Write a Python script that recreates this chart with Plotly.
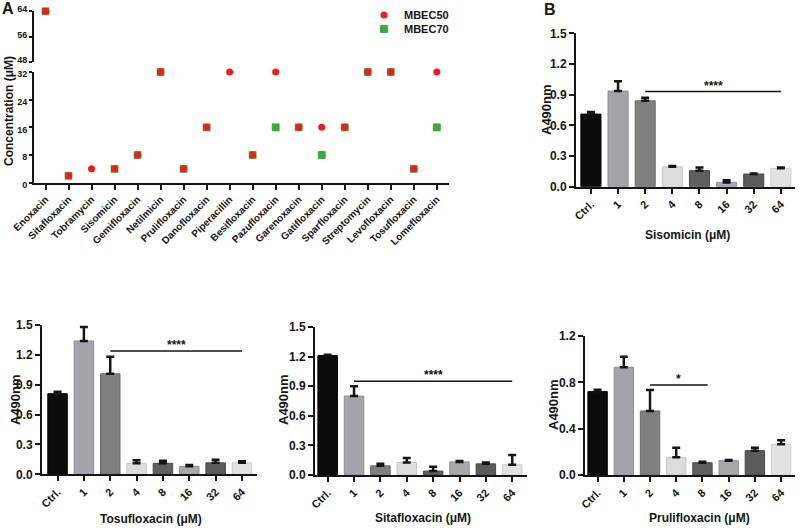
import plotly.graph_objects as go

W, H = 800, 531
FONT = "Liberation Sans, Arial, sans-serif"

# ---------------- Data ----------------
drugs = ["Enoxacin", "Sitafloxacin", "Tobramycin", "Sisomicin", "Gemifloxacin",
         "Netilmicin", "Prulifloxacin", "Danofloxacin", "Piperacillin", "Besifloxacin",
         "Pazufloxacin", "Garenoxacin", "Gatifloxacin", "Sparfloxacin", "Streptomycin",
         "Levofloxacin", "Tosufloxacin", "Lomefloxacin"]
mbec50 = [64, 2, 4, 4, 8, 32, 4, 16, 32, 8, 32, 16, 16, 16, 32, 32, 4, 32]
mbec70 = [64, 2, None, 4, 8, 32, 4, 16, None, 8, 16, 16, 8, 16, 32, 32, 4, 16]
conc_ticks_low = [0, 8, 16, 24, 32]
conc_ticks_high = [48, 56, 64]

dose_labels = ["Ctrl.", "1", "2", "4", "8", "16", "32", "64"]

siso_mean = [0.71, 0.935, 0.84, 0.195, 0.157, 0.042, 0.124, 0.180]
siso_err = [0.02, 0.095, 0.03, 0.008, 0.03, 0.022, 0.004, 0.007]

tosu_mean = [0.81, 1.34, 1.01, 0.11, 0.11, 0.08, 0.115, 0.115]
tosu_err = [0.02, 0.14, 0.17, 0.03, 0.027, 0.014, 0.03, 0.015]

sita_mean = [1.21, 0.80, 0.093, 0.127, 0.04, 0.133, 0.113, 0.103]
sita_err = [0.01, 0.10, 0.02, 0.046, 0.043, 0.01, 0.014, 0.10]

pruli_mean = [0.72, 0.93, 0.553, 0.153, 0.106, 0.124, 0.21, 0.265]
pruli_err = [0.015, 0.09, 0.18, 0.083, 0.009, 0.006, 0.026, 0.035]

# significance brackets: (from index, to index, height, label)
siso_sig = (2, 7, 0.93, "****")
tosu_sig = (2, 7, 1.24, "****")
sita_sig = (1, 7, 0.95, "****")
pruli_sig = (2, 4.2, 0.777, "*")

# ---------------- Styling ----------------
bar_colors = ["#0c0c0c", "#a3a3a9", "#7f7f7f", "#dcdcdc", "#5f5f5f", "#a7a7ae", "#5b5b5b", "#e2e2e2"]
bar_lines = ["#000000", "#8e8e94", "#6c6c6c", "#c8c8c8", "#4c4c4c", "#929298", "#484848", "#cdcdcd"]
RED = "#f41c1c"
GREEN = "#35b035"
INK = "#151515"


def px_x(p):
    return p / W


def px_y(p):
    return 1 - p / H


def axis_common(**kw):
    d = dict(showline=True, linecolor=INK, linewidth=2, ticks="outside", ticklen=5,
             tickwidth=1.5, tickcolor=INK, showgrid=False, zeroline=False, automargin=False,
             tickfont=dict(family=FONT, size=12, color=INK, weight="bold"))
    d.update(kw)
    return d


fig = go.Figure()

# ---------------- Panel A (broken axis) ----------------
xs = list(range(len(drugs)))
low50 = [(x, v) for x, v in zip(xs, mbec50) if v is not None and v <= 32]
low70 = [(x, v) for x, v in zip(xs, mbec70) if v is not None and v <= 32]
high50 = [(x, v) for x, v in zip(xs, mbec50) if v is not None and v >= 48]
high70 = [(x, v) for x, v in zip(xs, mbec70) if v is not None and v >= 48]

sq = dict(symbol="square", size=7, color=GREEN, line=dict(width=0.6, color="#1f8a1f"))
ci = dict(symbol="circle", size=7, color=RED, line=dict(width=0))

fig.add_trace(go.Scatter(x=[p[0] for p in low70], y=[p[1] for p in low70], mode="markers",
                         marker=sq, name="MBEC70", legend="legend2", cliponaxis=False,
                         xaxis="x", yaxis="y"))
fig.add_trace(go.Scatter(x=[p[0] for p in low50], y=[p[1] for p in low50], mode="markers",
                         marker=ci, name="MBEC50", legend="legend", cliponaxis=False,
                         xaxis="x", yaxis="y"))
fig.add_trace(go.Scatter(x=[p[0] for p in high70], y=[p[1] for p in high70], mode="markers",
                         marker=sq, showlegend=False, cliponaxis=False, xaxis="x2", yaxis="y2"))
fig.add_trace(go.Scatter(x=[p[0] for p in high50], y=[p[1] for p in high50], mode="markers",
                         marker=ci, showlegend=False, cliponaxis=False, xaxis="x2", yaxis="y2"))

# ---------------- Bar panels ----------------
panels = [
    ("x3", "y3", siso_mean, siso_err, siso_sig),
    ("x4", "y4", tosu_mean, tosu_err, tosu_sig),
    ("x5", "y5", sita_mean, sita_err, sita_sig),
    ("x6", "y6", pruli_mean, pruli_err, pruli_sig),
]
shapes = []
annotations = []
for xa, ya, mean, err, sig in panels:
    fig.add_trace(go.Bar(
        x=list(range(len(dose_labels))), y=mean, width=0.74,
        marker=dict(color=bar_colors, line=dict(color=bar_lines, width=1)),
        error_y=dict(type="data", array=err, arrayminus=[0] * len(err), symmetric=False,
                     color=INK, thickness=2.5, width=4),
        showlegend=False, xaxis=xa, yaxis=ya))
    s0, s1, h, lab = sig
    shapes.append(dict(type="line", xref=xa, yref=ya, x0=s0, x1=s1, y0=h, y1=h,
                       line=dict(color=INK, width=1.5)))
    annotations.append(dict(xref=xa, yref=ya, x=(s0 + s1) / 2, y=h, text=lab, showarrow=False,
                            yanchor="bottom", yshift=-3,
                            font=dict(family=FONT, size=12, color=INK, weight="bold")))

# ---------------- Layout ----------------
n = len(drugs)
leg_common = dict(xanchor="left", yanchor="top", bgcolor="rgba(0,0,0,0)", itemsizing="trace",
                  font=dict(family=FONT, size=11, color=INK, weight="bold"))
layout = dict(
    width=W, height=H, margin=dict(l=0, r=0, t=0, b=0, pad=0, autoexpand=False),
    paper_bgcolor="white", plot_bgcolor="white",
    font=dict(family=FONT, color=INK),
    showlegend=True,
    legend=dict(x=px_x(364), y=px_y(0.5), **leg_common),
    legend2=dict(x=px_x(364), y=px_y(14.5), **leg_common),
)

# Panel A lower
a_xfont = dict(family=FONT, size=10, color=INK, weight="bold")
a_yfont = dict(family=FONT, size=9, color=INK, weight="bold")
layout["xaxis"] = axis_common(domain=[px_x(34), px_x(449)], range=[-0.5, n - 1 + 0.53],
                              tickvals=xs, ticktext=drugs, tickangle=-45, anchor="y",
                              tickfont=a_xfont)
layout["yaxis"] = axis_common(domain=[px_y(182.7), px_y(72)], range=[0, 32], ticklen=3,
                              tickvals=conc_ticks_low, anchor="x", tickfont=a_yfont,
                              ticklabelshift=2)
layout["xaxis2"] = dict(domain=[px_x(34), px_x(449)], range=[-0.5, n - 1 + 0.53],
                        visible=False, anchor="y2", matches="x", automargin=False)
layout["yaxis2"] = axis_common(domain=[px_y(62), px_y(11.3)], range=[48, 64], ticklen=3,
                               tickvals=conc_ticks_high, anchor="x2", tickfont=a_yfont,
                               ticklabelshift=-2)

bar_axes = {
    "3": dict(x=(576, 795), rng=(-0.55, 7.52), y=(186.7, 33.3), yr=[0, 1.5], dt=0.3),
    "4": dict(x=(42, 257), rng=(-0.59, 7.57), y=(474.3, 325), yr=[0, 1.5], dt=0.3),
    "5": dict(x=(315, 527), rng=(-0.48, 7.56), y=(475, 327), yr=[0, 1.5], dt=0.3),
    "6": dict(x=(585, 795), rng=(-0.48, 7.53), y=(475, 336), yr=[0, 1.2], dt=0.4),
}
for k, a in bar_axes.items():
    layout["xaxis" + k] = axis_common(domain=[px_x(a["x"][0]), px_x(a["x"][1])], range=list(a["rng"]),
                                      tickvals=list(range(len(dose_labels))), ticktext=dose_labels,
                                      tickangle=-45, anchor="y" + k,
                                      tickfont=dict(family=FONT, size=11, color=INK, weight="bold"))
    layout["yaxis" + k] = axis_common(domain=[px_y(a["y"][0]), px_y(a["y"][1])], range=a["yr"],
                                      tick0=0, dtick=a["dt"], tickformat=".1f", anchor="x" + k)


def txt(x, y, s, size=12, angle=0):
    return dict(xref="paper", yref="paper", x=px_x(x), y=px_y(y), text=s, showarrow=False,
                xanchor="center", yanchor="middle", textangle=angle,
                font=dict(family=FONT, size=size, color=INK, weight="bold"))


annotations += [
    txt(8, 9, "A", 16),
    txt(550, 10, "B", 16),
    txt(9, 111, "Concentration (μM)", 12, -90),
    txt(547, 110, "A490nm", 13, -90),
    txt(15, 400, "A490nm", 13, -90),
    txt(283, 400, "A490nm", 13, -90),
    txt(553, 405, "A490nm", 13, -90),
    txt(687, 235, "Sisomicin (μM)", 12),
    txt(151, 519, "Tosufloxacin (μM)", 12),
    txt(423, 518, "Sitafloxacin (μM)", 12),
    txt(699, 518, "Prulifloxacin (μM)", 12),
]
layout["annotations"] = annotations
layout["shapes"] = shapes

fig.update_layout(**layout)
fig.write_html("out.html", config={"displayModeBar": False},
               post_script="document.body.style.margin='0';document.body.style.overflow='hidden';")
